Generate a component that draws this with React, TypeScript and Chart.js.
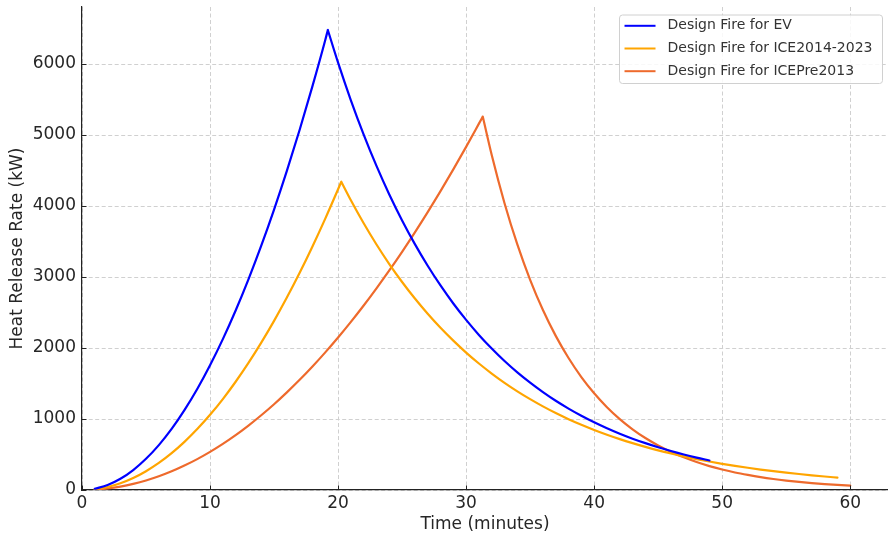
import { useEffect, useRef } from "react";
import { Chart, registerables } from "chart.js";

Chart.register(...registerables);

// ---- data ----
const seriesLabels = [
  "Design Fire for EV",
  "Design Fire for ICE2014-2023",
  "Design Fire for ICEPre2013",
];
const seriesColors = ["#0000ff", "#ffa500", "#ee6a2c"];

const evTime = [
  1, 2, 3, 4, 5, 6, 7, 8, 9, 10, 11, 12, 13, 14, 15, 16, 17, 18, 19, 19.2,
  20, 21, 22, 23, 24, 25, 26, 27, 28, 29, 30, 31, 32, 33, 34, 35, 36, 37, 38,
  39, 40, 41, 42, 43, 44, 45, 46, 47, 48, 49,
];
const evHRR = [
  18, 70, 158, 281, 439, 632, 860, 1124, 1422, 1756, 2125, 2529, 2968, 3442,
  3951, 4495, 5075, 5689, 6339, 6480, 6020, 5490, 5007, 4566, 4164, 3798,
  3464, 3159, 2881, 2627, 2396, 2185, 1993, 1817, 1657, 1512, 1379, 1257,
  1147, 1046, 954, 870, 793, 723, 660, 602, 549, 500, 456, 416,
];

const iceTime = [
  1, 2, 3, 4, 5, 6, 7, 8, 9, 10, 11, 12, 13, 14, 15, 16, 17, 18, 19, 20,
  20.25, 21, 22, 23, 24, 25, 26, 27, 28, 29, 30, 31, 32, 33, 34, 35, 36, 37,
  38, 39, 40, 41, 42, 43, 44, 45, 46, 47, 48, 49, 50, 51, 52, 53, 54, 55, 56,
  57, 58, 59,
];
const iceHRR = [
  11, 42, 95, 169, 265, 381, 519, 678, 858, 1059, 1281, 1525, 1790, 2076,
  2383, 2711, 3060, 3431, 3823, 4236, 4342, 4081, 3757, 3458, 3183, 2930,
  2697, 2483, 2285, 2104, 1936, 1782, 1641, 1510, 1390, 1280, 1178, 1084, 998,
  919, 846, 779, 717, 660, 607, 559, 515, 474, 436, 401, 369, 340, 313, 288,
  265, 244, 225, 207, 190, 175,
];

const preTime = [
  1, 2, 3, 4, 5, 6, 7, 8, 9, 10, 11, 12, 13, 14, 15, 16, 17, 18, 19, 20, 21,
  22, 23, 24, 25, 26, 27, 28, 29, 30, 31, 31.3, 32, 33, 34, 35, 36, 37, 38,
  39, 40, 41, 42, 43, 44, 45, 46, 47, 48, 49, 50, 51, 52, 53, 54, 55, 56, 57,
  58, 59, 60,
];
const preHRR = [
  5, 21, 48, 86, 134, 193, 263, 344, 435, 537, 650, 773, 908, 1053, 1208,
  1375, 1552, 1740, 1939, 2148, 2368, 2599, 2841, 3093, 3356, 3630, 3915,
  4210, 4516, 4833, 5161, 5260, 4718, 4040, 3459, 2961, 2535, 2171, 1859,
  1591, 1363, 1167, 999, 855, 732, 627, 537, 460, 394, 337, 289, 247, 212,
  181, 155, 133, 114, 97, 83, 71, 61,
];

const xTicks = [0, 10, 20, 30, 40, 50, 60];
const yTicks = [0, 1000, 2000, 3000, 4000, 5000, 6000];
const xTitle = "Time (minutes)";
const yTitle = "Heat Release Rate (kW)";

const FONT = "'DejaVu Sans', 'Liberation Sans', sans-serif";

// Keeps the peak sharp: the rising and decaying parts become two segments.
function toPoints(times: number[], values: number[]) {
  const peak = values.indexOf(Math.max(...values));
  const pts: { x: number; y: number | null }[] = [];
  times.forEach((t, i) => {
    pts.push({ x: t, y: values[i] });
    if (i === peak) {
      pts.push({ x: t, y: null });
      pts.push({ x: t, y: values[i] });
    }
  });
  return pts;
}

const decorPlugin = {
  id: "decor",
  afterDraw(chart: any) {
    const { ctx, chartArea: a, scales } = chart;
    ctx.save();
    // inward tick marks
    ctx.strokeStyle = "#222";
    ctx.lineWidth = 1;
    ctx.beginPath();
    xTicks.forEach((v) => {
      const px = Math.round(scales.x.getPixelForValue(v)) + 0.5;
      ctx.moveTo(px, a.bottom);
      ctx.lineTo(px, a.bottom - 4.5);
    });
    yTicks.forEach((v) => {
      const py = Math.round(scales.y.getPixelForValue(v)) + 0.5;
      ctx.moveTo(a.left, py);
      ctx.lineTo(a.left + 4.5, py);
    });
    ctx.stroke();

    // legend box
    ctx.font = `14px ${FONT}`;
    const widths = seriesLabels.map((l) => ctx.measureText(l).width);
    const maxW = Math.max(...widths);
    const padL = 5, lineLen = 31, gap = 12, padR = 10;
    const rowH = 22.7;
    const boxW = padL + lineLen + gap + maxW + padR;
    const boxH = 68.5;
    const right = a.right - 5.5;
    const left = right - boxW;
    const top = a.top + 8;
    const r = 3;
    ctx.beginPath();
    ctx.moveTo(left + r, top);
    ctx.lineTo(left + boxW - r, top);
    ctx.arcTo(left + boxW, top, left + boxW, top + r, r);
    ctx.lineTo(left + boxW, top + boxH - r);
    ctx.arcTo(left + boxW, top + boxH, left + boxW - r, top + boxH, r);
    ctx.lineTo(left + r, top + boxH);
    ctx.arcTo(left, top + boxH, left, top + boxH - r, r);
    ctx.lineTo(left, top + r);
    ctx.arcTo(left, top, left + r, top, r);
    ctx.closePath();
    ctx.fillStyle = "rgba(255,255,255,0.85)";
    ctx.fill();
    ctx.strokeStyle = "#d0d0d0";
    ctx.lineWidth = 1;
    ctx.stroke();

    seriesLabels.forEach((label, i) => {
      const cy = top + 10.8 + i * rowH;
      ctx.strokeStyle = seriesColors[i];
      ctx.lineWidth = 2;
      ctx.beginPath();
      ctx.moveTo(left + padL, cy);
      ctx.lineTo(left + padL + lineLen, cy);
      ctx.stroke();
      ctx.fillStyle = "#333";
      ctx.textBaseline = "middle";
      ctx.textAlign = "left";
      ctx.fillText(label, left + padL + lineLen + gap, cy);
    });
    ctx.restore();
  },
};

export default function App() {
  const ref = useRef<HTMLCanvasElement | null>(null);

  useEffect(() => {
    document.body.style.margin = "0";
    const canvas = ref.current;
    if (!canvas) return;
    const times = [evTime, iceTime, preTime];
    const values = [evHRR, iceHRR, preHRR];
    const chart = new Chart(canvas, {
      type: "line",
      data: {
        datasets: seriesLabels.map((label, i) => ({
          label,
          data: toPoints(times[i], values[i]) as any,
          borderColor: seriesColors[i],
          backgroundColor: seriesColors[i],
          borderWidth: 2.2,
          pointRadius: 0,
          pointHoverRadius: 0,
          fill: false,
          spanGaps: false,
          cubicInterpolationMode: "monotone" as const,
          borderCapStyle: "round" as const,
          borderJoinStyle: "round" as const,
        })),
      },
      options: {
        responsive: false,
        animation: false,
        events: [],
        layout: { padding: { top: 7, right: 0, left: 0, bottom: 0 } },
        plugins: {
          legend: { display: false },
          tooltip: { enabled: false },
        },
        scales: {
          x: {
            type: "linear",
            min: 0,
            max: 62.95,
            afterFit: (s: any) => {
              s.height = 47;
              s.paddingLeft = 0;
              s.paddingRight = 0;
            },
            afterBuildTicks: (s: any) => {
              s.ticks = xTicks.map((v) => ({ value: v }));
            },
            ticks: {
              color: "#262626",
              font: { family: FONT, size: 17 },
              padding: 3,
              maxRotation: 0,
              autoSkip: false,
              callback: (v: any) => String(v),
            },
            grid: {
              color: "#d0d0d0",
              lineWidth: 1,
              drawTicks: false,
            },
            border: { display: true, color: "#222", width: 1.2, dash: [4, 2.5] },
            title: {
              display: true,
              text: xTitle,
              color: "#262626",
              font: { family: FONT, size: 17 },
              padding: { top: 0, bottom: 2 },
            },
          },
          y: {
            type: "linear",
            min: 0,
            max: 6804,
            afterFit: (s: any) => {
              s.width = 82;
              s.paddingTop = 0;
              s.paddingBottom = 0;
            },
            afterBuildTicks: (s: any) => {
              s.ticks = yTicks.map((v) => ({ value: v }));
            },
            ticks: {
              color: "#262626",
              font: { family: FONT, size: 17 },
              padding: 6,
              autoSkip: false,
              callback: (v: any) => String(v),
            },
            grid: {
              color: "#d0d0d0",
              lineWidth: 1,
              drawTicks: false,
            },
            border: { display: true, color: "#222", width: 1.2, dash: [4, 2.5] },
            title: {
              display: true,
              text: yTitle,
              color: "#262626",
              font: { family: FONT, size: 17 },
              padding: { top: 7, bottom: 0 },
            },
          },
        },
      },
      plugins: [decorPlugin],
    });
    return () => chart.destroy();
  }, []);

  return (
    <div style={{ width: 888, height: 537 }}>
      <canvas ref={ref} width={888} height={537} style={{ width: 888, height: 537, display: "block" }} />
    </div>
  );
}
